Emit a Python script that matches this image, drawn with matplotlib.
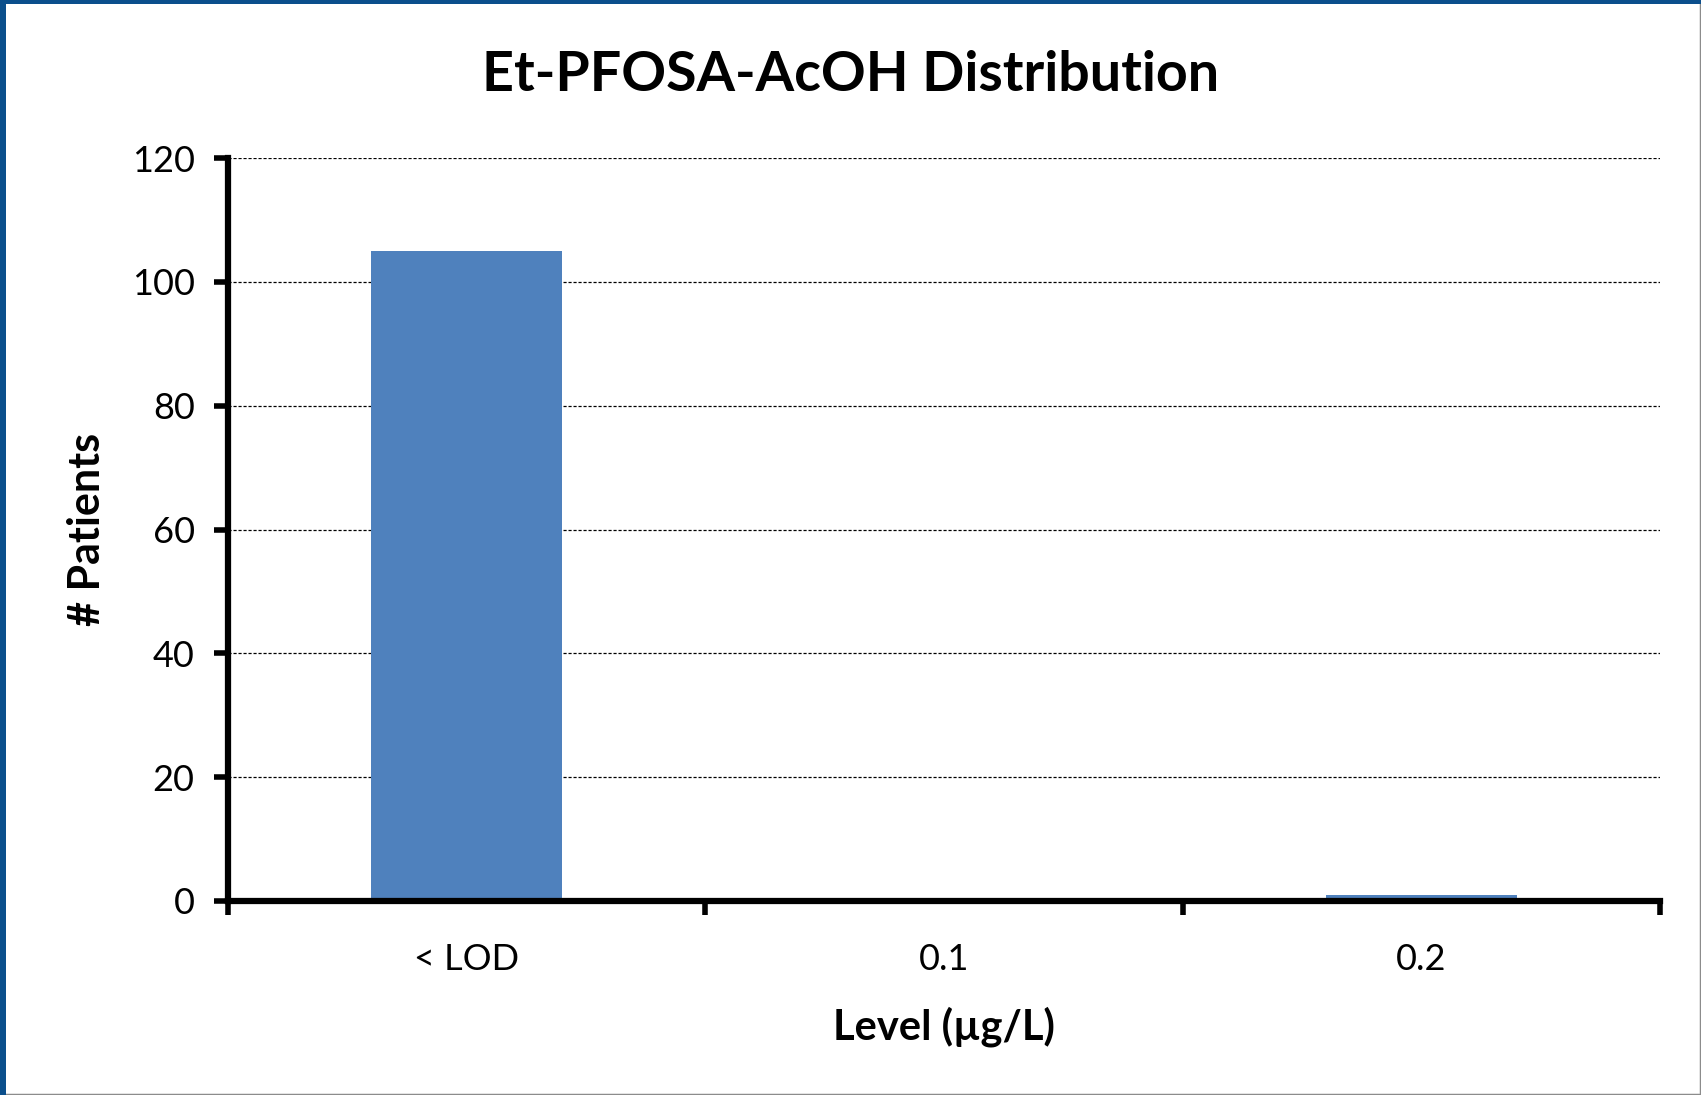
import matplotlib.pyplot as plt
from matplotlib.patches import Rectangle

# counts per level
levels = ["< LOD", "0.1", "0.2"]
patients = [105, 0, 1]
y_ticks = [0, 20, 40, 60, 80, 100, 120]

plt.rcParams['font.family'] = ['Lato', 'DejaVu Sans']

fig = plt.figure(figsize=(17.01, 10.95), dpi=100)
ax = fig.add_axes([228 / 1701, 1 - 901 / 1095, 1432 / 1701, 743 / 1095])

# window-style frame round the chart
fig.patches.append(Rectangle((0, 0), 1, 1, transform=fig.transFigure,
                             fill=False, edgecolor='#8c8c8c', linewidth=2.5))
fig.patches.append(Rectangle((0, 1 - 4 / 1095), 1, 4 / 1095, transform=fig.transFigure,
                             facecolor='#0b4f8c', edgecolor='none'))
fig.patches.append(Rectangle((0, 0), 6 / 1701, 1, transform=fig.transFigure,
                             facecolor='#0b4f8c', edgecolor='none'))

x = range(len(levels))
ax.bar(x, patients, width=0.4, color='#4f81bd', zorder=2)

ax.set_xlim(-0.5, len(levels) - 0.5)
ax.set_ylim(0, 120)
ax.set_yticks(y_ticks)
ax.yaxis.grid(True, color='black', linestyle=(0, (2.5, 1.5)), linewidth=0.9, zorder=0)
ax.set_axisbelow(True)

# category labels sit between boundary ticks
ax.set_xticks([i - 0.5 for i in range(len(levels) + 1)])
ax.set_xticklabels([])
ax.set_xticks(list(x), minor=True)
ax.set_xticklabels(levels, minor=True)
ax.tick_params(axis='x', which='minor', length=0, pad=30, labelsize=26)
ax.tick_params(axis='x', which='major', direction='out', length=10, width=4)
ax.tick_params(axis='y', direction='out', length=10, width=4, labelsize=26, pad=14)

for side in ['top', 'right']:
    ax.spines[side].set_visible(False)
for side in ['left', 'bottom']:
    ax.spines[side].set_linewidth(4.5)
    ax.spines[side].set_zorder(3)

fig.suptitle("Et-PFOSA-AcOH Distribution", x=0.5, y=1 - 75 / 1095, va='center',
             fontsize=40, fontweight='bold')
ax.set_xlabel("Level (µg/L)", fontsize=30, fontweight='bold', labelpad=22)
ax.set_ylabel("# Patients", fontsize=31, fontweight='bold', labelpad=18)

fig.savefig("out.png", dpi=100)
